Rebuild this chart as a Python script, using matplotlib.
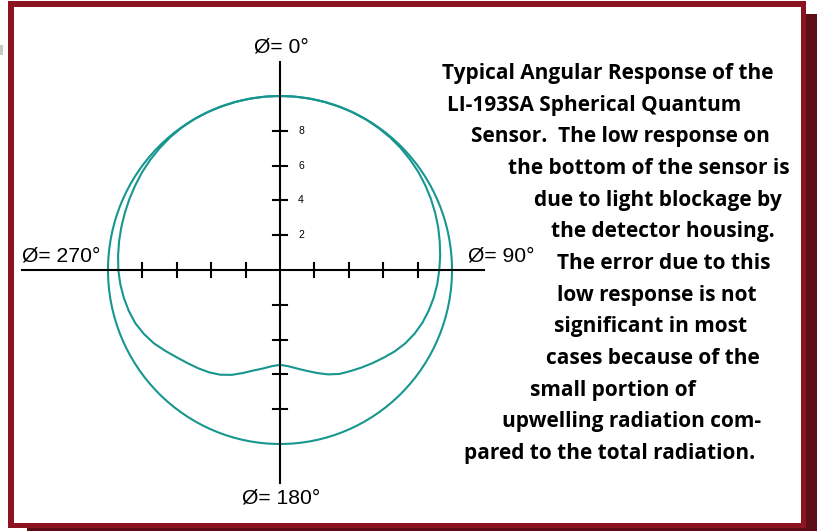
import matplotlib
matplotlib.use("Agg")
import matplotlib.pyplot as plt
import numpy as np
from matplotlib.patches import Rectangle, Circle
from matplotlib.transforms import Affine2D

# ---------------- data ----------------
# angle measured clockwise from the top (0 deg = zenith), response in relative units
angle_deg = list(range(0, 365, 5))
measured_r = [
    10.0, 10.0, 10.0, 10.0, 10.0, 10.0, 9.99, 9.97, 9.95, 9.92, 9.87, 9.82,   # 0-55
    9.75, 9.68, 9.6, 9.52, 9.43, 9.35, 9.26, 9.18, 9.08, 8.96, 8.82, 8.64,    # 60-115
    8.42, 8.15, 7.85, 7.58, 7.33, 7.1, 6.9, 6.62, 6.3, 6.0, 5.75, 5.55,        # 120-175
    5.45, 5.55, 5.75, 5.98, 6.3, 6.65, 6.95, 7.18, 7.38, 7.58, 7.82, 8.12,     # 180-235
    8.45, 8.72, 8.95, 9.1, 9.22, 9.32, 9.4, 9.45, 9.5, 9.55, 9.6, 9.66,        # 240-295
    9.72, 9.79, 9.85, 9.9, 9.95, 9.98, 10.0, 10.0, 10.0, 10.0, 10.0, 10.0,     # 300-355
    10.0,                                                                      # 360
]
ideal_r = 10.0
tick_values = [2, 4, 6, 8]
tick_labels = ["2", "4", "6", "8"]
direction_labels = ["Ø= 0°", "Ø= 90°", "Ø= 180°", "Ø= 270°"]
caption_lines = [
    "Typical Angular Response of the",
    "LI-193SA Spherical Quantum",
    "Sensor.  The low response on",
    "the bottom of the sensor is",
    "due to light blockage by",
    "the detector housing.",
    "The error due to this",
    "low response is not",
    "significant in most",
    "cases because of the",
    "small portion of",
    "upwelling radiation com-",
    "pared to the total radiation.",
]

# ---------------- layout ----------------
W, H = 817, 531
fig = plt.figure(figsize=(W / 100, H / 100), dpi=100)
ax = fig.add_axes([0, 0, 1, 1])
ax.set_axis_off()

cx, cy = 280.0, 270.0      # pixel position of origin
sx, sy = 17.2, 17.4        # pixels per unit
ax.set_xlim(-cx / sx, (W - cx) / sx)
ax.set_ylim(-(H - cy) / sy, cy / sy)

px = Affine2D().scale(1 / W, -1 / H).translate(0, 1) + ax.transAxes

# frame
ax.add_patch(Rectangle((27, 14), 790, 517, transform=px, color="#5C0D15", zorder=0, lw=0))
ax.add_patch(Rectangle((8, 1), 798, 527, transform=px, color="#8C1420", zorder=0.1, lw=0))
ax.add_patch(Rectangle((14, 7), 787, 516, transform=px, color="white", zorder=0.2, lw=0))
ax.add_patch(Rectangle((0, 45), 3, 10, transform=px, color="#C8C8C8", zorder=0.2, lw=0))

teal = "#17968F"
# curves
th = np.radians(angle_deg)
r = np.array(measured_r)
ax.plot(r * np.sin(th), r * np.cos(th), color=teal, lw=1.5, zorder=3,
        solid_joinstyle="round", antialiased=True)
ax.add_patch(Circle((0, 0), ideal_r, fill=False, ec=teal, lw=1.5, zorder=3))

# axes lines
ax.plot([(22 - cx) / sx, (484 - cx) / sx], [0, 0], color="black", lw=1.5, zorder=4)
ax.plot([0, 0], [(cy - 62) / sy, (cy - 483) / sy], color="black", lw=1.5, zorder=4)
tl = 7.0
for v in tick_values:
    for s in (-1, 1):
        ax.plot([s * v, s * v], [-tl / sy, tl / sy], color="black", lw=1.5, zorder=4)
        ax.plot([-tl / sx, tl / sx], [s * v, s * v], color="black", lw=1.5, zorder=4)
for v, lab in zip(tick_values, tick_labels):
    ax.text(21 / sx, v, lab, fontsize=7.5, family="Liberation Sans",
            ha="center", va="center", zorder=5)

# direction labels (pixel positions)
lab_font = dict(fontsize=15.2, family="Liberation Sans", zorder=5)
ax.text(281.5, 52.5, direction_labels[0], transform=px, ha="center", va="baseline", **lab_font)
ax.text(468, 262, direction_labels[1], transform=px, ha="left", va="baseline", **lab_font)
ax.text(281.5, 503, direction_labels[2], transform=px, ha="center", va="baseline", **lab_font)
ax.text(22, 262, direction_labels[3], transform=px, ha="left", va="baseline", **lab_font)

# caption
centers = [607.3, 594.2, 620.8, 648.8, 657.8, 662.5, 663.8, 657.2, 650.3, 652.7, 613, 631.3, 610]
baselines = [79, 110.7, 142.3, 174, 205.7, 237.3, 269, 300.7, 332.3, 364, 395.7, 427.3, 459]
for line, xc, yb in zip(caption_lines, centers, baselines):
    ax.text(xc, yb, line, transform=px, ha="center", va="baseline",
            fontsize=15, fontweight="bold", family="Open Sans", zorder=5)

fig.savefig("out.png", dpi=100)
